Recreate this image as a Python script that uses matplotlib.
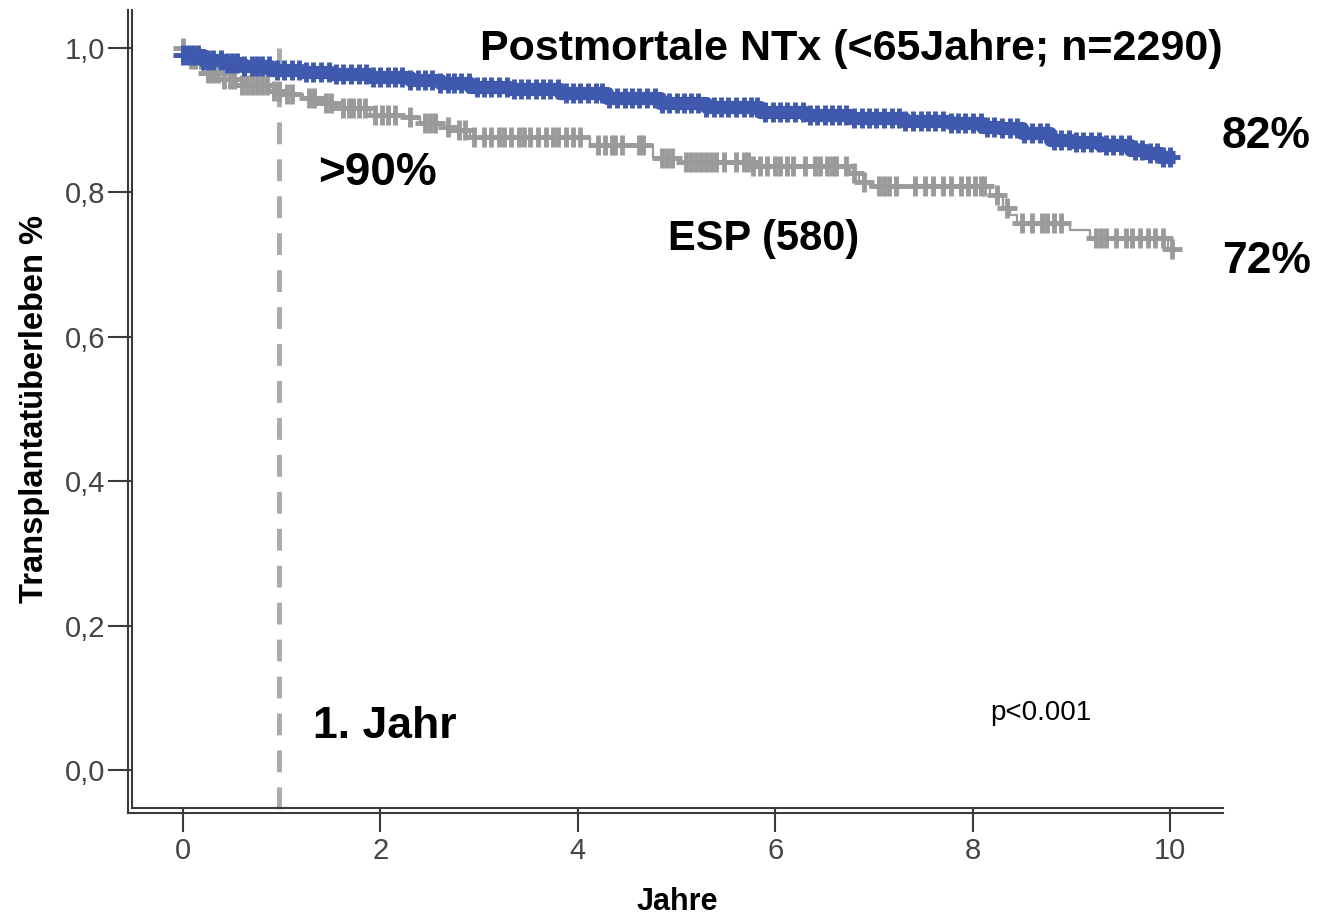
import numpy as np
import matplotlib as mpl
mpl.use('Agg')
import matplotlib.pyplot as plt
from matplotlib.lines import Line2D

plt.rcParams['font.family'] = ['Liberation Sans', 'DejaVu Sans']

# Kaplan-Meier step points (time in years, survival)
pm_t = [0.0, 0.2, 0.4, 0.6, 0.88, 1.2, 1.5, 1.89, 2.3, 2.6, 2.91, 3.3, 3.82,
        4.3, 4.83, 5.3, 5.85, 6.3, 6.76, 7.3, 7.77, 8.1, 8.28, 8.5, 8.78,
        9.0, 9.29, 9.59, 9.75, 9.9]
pm_s = [0.99, 0.984, 0.979, 0.975, 0.970, 0.967, 0.964, 0.960, 0.955, 0.951,
        0.946, 0.943, 0.938, 0.931, 0.924, 0.918, 0.911, 0.907, 0.903, 0.899,
        0.896, 0.891, 0.889, 0.882, 0.873, 0.870, 0.866, 0.859, 0.854, 0.849]
pm_end = 10.05
pm_cens = [0.0, 0.05, 0.1, 0.15, 0.2, 0.25, 0.3, 0.38, 0.45, 0.5, 0.55, 0.62,
           0.7, 0.75, 0.8, 0.87, 0.95, 1.02, 1.1, 1.18, 1.25, 1.32, 1.4, 1.48,
           1.55, 1.62, 1.7, 1.78, 1.85, 1.92, 2.0, 2.08, 2.15, 2.22, 2.3,
           2.38, 2.45, 2.52, 2.6, 2.68, 2.75, 2.82, 2.9, 2.98, 3.05, 3.12,
           3.2, 3.28, 3.35, 3.42, 3.5, 3.58, 3.65, 3.72, 3.8, 3.88, 3.95,
           4.02, 4.1, 4.18, 4.25, 4.32, 4.4, 4.48, 4.55, 4.62, 4.7, 4.78,
           4.85, 4.92, 5.0, 5.08, 5.15, 5.22, 5.3, 5.38, 5.45, 5.52, 5.6,
           5.68, 5.75, 5.82, 5.9, 5.98, 6.05, 6.12, 6.2, 6.28, 6.35, 6.42,
           6.5, 6.58, 6.65, 6.72, 6.8, 6.88, 6.95, 7.02, 7.1, 7.18, 7.25,
           7.32, 7.4, 7.48, 7.55, 7.62, 7.7, 7.78, 7.85, 7.92, 8.0, 8.08,
           8.15, 8.22, 8.3, 8.38, 8.45, 8.52, 8.6, 8.68, 8.75, 8.82, 8.9,
           8.98, 9.05, 9.12, 9.2, 9.28, 9.35, 9.42, 9.5, 9.58, 9.65, 9.72,
           9.8, 9.87, 9.93, 10.0]

esp_t = [0.0, 0.05, 0.2, 0.4, 0.55, 0.88, 1.0, 1.22, 1.4, 1.56, 1.89, 2.23,
         2.4, 2.6, 2.74, 2.91, 4.12, 4.76, 5.05, 5.74, 6.76, 6.85, 6.96, 8.18,
         8.31, 8.38, 8.45, 8.99, 9.19, 9.98]
esp_s = [1.0, 0.985, 0.965, 0.957, 0.949, 0.940, 0.936, 0.931, 0.924, 0.917,
         0.907, 0.904, 0.896, 0.890, 0.886, 0.877, 0.866, 0.848, 0.842, 0.836,
         0.827, 0.815, 0.809, 0.796, 0.778, 0.769, 0.758, 0.748, 0.737, 0.722]
esp_end = 10.02
esp_cens = [0.0, 0.08, 0.12, 0.18, 0.25, 0.3, 0.35, 0.42, 0.48, 0.52, 0.6,
            0.65, 0.7, 0.75, 0.8, 0.85, 0.92, 0.97, 1.05, 1.1, 1.28, 1.33,
            1.45, 1.5, 1.62, 1.68, 1.72, 1.78, 1.84, 1.95, 2.02, 2.08, 2.15,
            2.3, 2.45, 2.5, 2.55, 2.68, 2.8, 2.86, 2.95, 3.05, 3.12, 3.2, 3.25,
            3.32, 3.4, 3.45, 3.52, 3.6, 3.68, 3.75, 3.8, 3.88, 3.95, 4.02, 4.2,
            4.28, 4.35, 4.38, 4.45, 4.62, 4.66, 4.85, 4.9, 4.95, 5.1, 5.15,
            5.2, 5.25, 5.3, 5.35, 5.4, 5.48, 5.6, 5.68, 5.72, 5.78, 5.85, 5.92,
            6.0, 6.05, 6.12, 6.18, 6.3, 6.4, 6.45, 6.52, 6.58, 6.62, 6.72, 6.8,
            6.9, 7.05, 7.1, 7.15, 7.22, 7.42, 7.52, 7.6, 7.7, 7.78, 7.88, 7.95,
            8.02, 8.08, 8.12, 8.25, 8.35, 8.5, 8.6, 8.7, 8.75, 8.82, 8.9, 9.25,
            9.3, 9.35, 9.45, 9.55, 9.62, 9.7, 9.78, 9.85, 9.93, 10.02]

xticks = [0, 2, 4, 6, 8, 10]
yticks = [0.0, 0.2, 0.4, 0.6, 0.8, 1.0]
yticklabels = ['0,0', '0,2', '0,4', '0,6', '0,8', '1,0']

blue = '#3f59ae'
grey = '#9a9a9a'
axcol = '#3a3a3a'


def surv_at(t_steps, s_steps, t):
    idx = np.searchsorted(np.asarray(t_steps), np.asarray(t), side='right') - 1
    return np.asarray(s_steps)[np.clip(idx, 0, None)]


# layout in pixels
W, H = 1318, 915
L, R, T, B = 132, 1223, 10, 808

fig = plt.figure(figsize=(W / 100, H / 100), dpi=100, facecolor='white')
ax = fig.add_axes([L / W, 1 - B / H, (R - L) / W, (B - T) / H])

ax.set_xlim(-0.517, 10.537)
ax.set_ylim(-0.0526, 1.0526)

# 1. Jahr marker
ax.plot([0.97, 0.97], [1.0, -0.065], color='#aaaaaa', lw=3.5,
        dashes=(4.5, 3.1), clip_on=False, zorder=1, solid_capstyle='butt')

# Postmortale NTx curve (dense censoring -> thick band)
ax.step(pm_t + [pm_end], pm_s + [pm_s[-1]], where='post', color=blue,
        lw=9.5, zorder=3, solid_capstyle='butt')
ax.plot(pm_cens, surv_at(pm_t, pm_s, pm_cens), ls='none', marker='+',
        ms=14, mew=3.5, color=blue, zorder=3)

# ESP curve
ax.step(esp_t + [esp_end], esp_s + [esp_s[-1]], where='post', color=grey,
        lw=1.6, zorder=2)
ax.plot(esp_cens, surv_at(esp_t, esp_s, esp_cens), ls='none', marker='+',
        ms=14, mew=3.5, color=grey, zorder=2)

# axes styling (SPSS like double lines)
for s in ['top', 'right']:
    ax.spines[s].set_visible(False)
for s in ['left', 'bottom']:
    ax.spines[s].set_color(axcol)
    ax.spines[s].set_linewidth(1.5)
fig.add_artist(Line2D([(L - 4.5) / W] * 2, [1 - (B + 4.5) / H, 1 - T / H],
                      transform=fig.transFigure, color=axcol, lw=1.5))
fig.add_artist(Line2D([(L - 4.5) / W, R / W], [1 - (B + 4.5) / H] * 2,
                      transform=fig.transFigure, color=axcol, lw=1.5))

ax.set_xticks(xticks)
ax.set_xticklabels([str(x) for x in xticks])
ax.set_yticks(yticks)
ax.set_yticklabels(yticklabels)
ax.tick_params(axis='both', direction='out', length=17, width=1.5,
               color=axcol, labelsize=21, labelcolor='#444444')
ax.tick_params(axis='x', pad=4)
ax.tick_params(axis='y', pad=2)

ax.set_xlabel('Jahre', fontsize=22, fontweight='bold', labelpad=16)
ax.set_ylabel('Transplantatüberleben %', fontsize=23.5, fontweight='bold',
              labelpad=11)

# annotations
ax.text(3.01, 0.983, 'Postmortale NTx (<65Jahre; n=2290)', fontsize=31,
        fontweight='bold', va='baseline')
ax.text(1.368, 0.810, '>90%', fontsize=33, fontweight='bold', va='baseline')
ax.text(4.914, 0.720, 'ESP (580)', fontsize=30, fontweight='bold',
        va='baseline')
ax.text(10.527, 0.861, '82%', fontsize=32, fontweight='bold', va='baseline')
ax.text(10.527, 0.688, '72%', fontsize=32, fontweight='bold', va='baseline')
ax.text(1.317, 0.0443, '1. Jahr', fontsize=32, fontweight='bold',
        va='baseline')
ax.text(8.176, 0.069, 'p<0.001', fontsize=20, va='baseline')

fig.savefig('out.png', dpi=100, facecolor='white')
